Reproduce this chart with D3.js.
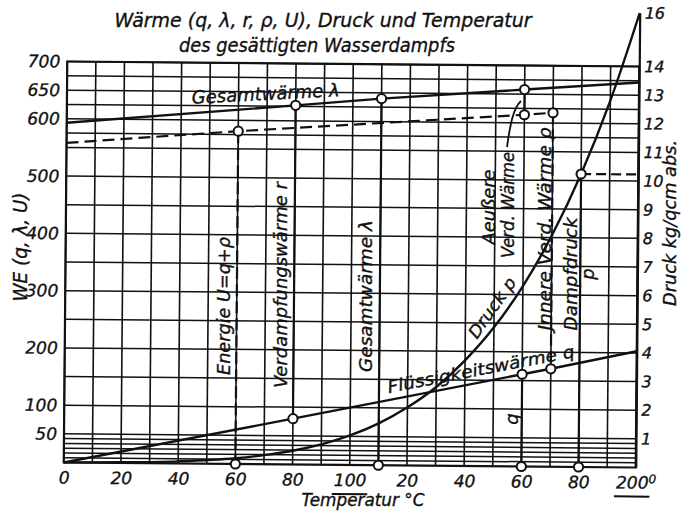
<!DOCTYPE html>
<html>
<head>
<meta charset="utf-8">
<script src="https://cdn.jsdelivr.net/npm/d3@7"></script>
<style>
  body { margin: 0; background: #fff; }
  svg { display: block; }
  text { font-family: "DejaVu Sans", sans-serif; font-style: italic; fill: #111; stroke: #111; stroke-width: 0.35px; }
</style>
</head>
<body>
<div id="chart"></div>
<script>
// Temperatur-Achse (°C)
var tempTicks = [0, 20, 40, 60, 80, 100, 120, 140, 160, 180, 200];
var tempTickLabels = ['0', '20', '40', '60', '80', '100', '20', '40', '60', '80', '200'];
var tempGrid = [0, 10, 20, 30, 40, 50, 60, 70, 80, 90, 100, 110, 120, 130, 140, 150, 160, 170, 180, 190, 200];

// Wärme-Achse (WE)
var weTicks = [50, 100, 200, 300, 400, 500, 600, 650, 700];
var weGrid = [8.3, 16.7, 25, 33.3, 41.7, 50, 100, 150, 200, 250, 300, 350, 400, 450, 500, 550,
  575, 600, 625, 650, 675, 700];

// Druck-Achse (kg/qcm abs.)
var druckTicks = [1, 2, 3, 4, 5, 6, 7, 8, 9, 10, 11, 12, 13, 14, 16];

// Kurven [t, Wert]
var gesamtwaerme = [[0, 593], [80, 627], [110, 640], [160, 658], [200, 672]];          // lambda
var fluessigkeitswaerme = [[0, 0], [80, 80], [160, 161], [170, 171], [200, 203]];      // q
var energie = [[0, 558], [60, 581], [160, 614], [170, 618]];                           // U = q + rho
var druck = [[0, 0.006], [20, 0.024], [40, 0.075], [60, 0.2], [70, 0.32], [80, 0.48],
  [90, 0.71], [100, 1.03], [110, 1.46], [120, 2.03], [130, 2.75], [140, 3.69],
  [150, 4.85], [160, 6.3], [170, 8.08], [180, 10.23], [190, 12.8], [200, 16]];        // p
var dampfdruckMarke = [[180, 10.23], [200, 10.23]];

// Messpunkte [t, Wert, Achse]
var punkte = [[60, 581, 'we'], [60, 0, 'we'], [80, 627, 'we'], [80, 80, 'we'],
  [110, 640, 'we'], [110, 0, 'we'], [160, 658, 'we'], [160, 614, 'we'], [160, 161, 'we'],
  [160, 0, 'we'], [170, 618, 'we'], [170, 171, 'we'], [180, 10.23, 'p'], [180, 0, 'we']];
// senkrechte Striche [t, von, bis, Achse, gestrichelt]
var striche = [[60, 581, 0, 'we', true], [80, 627, 80, 'we', false], [110, 640, 0, 'we', false],
  [160, 658, 614, 'we', false], [160, 161, 0, 'we', false], [170, 618, 171, 'we', true],
  [180, 10.23, 0, 'p', false]];

var W = 681, H = 516, ink = '#111';

var svg = d3.select('#chart').append('svg').attr('width', W).attr('height', H);

var x = d3.scaleLinear().domain([0, 200]).range([65.5, 637.5]);
var y = d3.scaleLinear().domain([0, 700]).range([465, 64]);
var yp = d3.scaleLinear().domain([0, 14, 16]).range([465, 64, 10.5]);
function ys(axis) { return axis === 'p' ? yp : y; }

// the scan is slightly tilted
var plot = svg.append('g').attr('transform', 'rotate(0.5,351.5,264.5)');

// grid
plot.append('g').selectAll('line').data(tempGrid).enter().append('line')
  .attr('x1', d => x(d)).attr('x2', d => x(d))
  .attr('y1', y(0)).attr('y2', y(700))
  .attr('stroke', ink).attr('stroke-width', 1.6);
plot.append('g').selectAll('line').data(weGrid).enter().append('line')
  .attr('x1', x(0)).attr('x2', x(200))
  .attr('y1', d => y(d)).attr('y2', d => y(d))
  .attr('stroke', ink).attr('stroke-width', 1.5);

// frame
plot.append('rect').attr('x', x(0)).attr('y', y(700))
  .attr('width', x(200) - x(0)).attr('height', y(0) - y(700))
  .attr('fill', 'none').attr('stroke', ink).attr('stroke-width', 2.2);

// axes
var fs = 17;
var axLeft = plot.append('g').attr('transform', 'translate(' + x(0) + ',0)')
  .call(d3.axisLeft(y).tickValues(weTicks).tickSize(0).tickPadding(7));
var axRight = plot.append('g').attr('transform', 'translate(' + x(200) + ',0)')
  .call(d3.axisRight(yp).tickValues(druckTicks).tickSize(0).tickPadding(5));
var axBottom = plot.append('g').attr('transform', 'translate(0,' + y(0) + ')')
  .call(d3.axisBottom(x).tickValues(tempTicks).tickSize(0).tickPadding(9)
    .tickFormat((d, i) => tempTickLabels[i]));
[axLeft, axBottom].forEach(a => {
  a.select('.domain').remove();
  a.selectAll('text').attr('font-size', fs).attr('fill', ink)
    .style('font-family', '"DejaVu Sans", sans-serif').style('font-style', 'italic');
});
axRight.select('.domain').attr('stroke', ink).attr('stroke-width', 2.2);
axRight.selectAll('text').attr('font-size', 16).attr('fill', ink)
  .style('font-family', '"DejaVu Sans", sans-serif').style('font-style', 'italic');

// 200 with raised 0, underlines under 100 and 200
axBottom.selectAll('.tick').filter(d => d === 200).select('text')
  .append('tspan').attr('dy', '-0.45em').attr('font-size', 12).text('0');
axBottom.selectAll('.tick').filter(d => d === 100 || d === 200).each(function(d) {
  var t = d3.select(this).select('text');
  var bb = t.node().getBBox();
  var w = d === 200 ? bb.width - 8 : bb.width;
  d3.select(this).append('line')
    .attr('x1', bb.x - 2).attr('x2', bb.x + w + 1)
    .attr('y1', bb.y + bb.height + 4).attr('y2', bb.y + bb.height + 4)
    .attr('stroke', ink).attr('stroke-width', 2);
});

// curves
var line = d3.line().x(d => x(d[0])).y(d => y(d[1]));
var lineP = d3.line().x(d => x(d[0])).y(d => yp(d[1])).curve(d3.curveMonotoneX);

plot.append('path').attr('d', line(gesamtwaerme))
  .attr('fill', 'none').attr('stroke', ink).attr('stroke-width', 2.4);
plot.append('path').attr('d', line(fluessigkeitswaerme))
  .attr('fill', 'none').attr('stroke', ink).attr('stroke-width', 2.4);
plot.append('path').attr('d', line(energie))
  .attr('fill', 'none').attr('stroke', ink).attr('stroke-width', 2.2)
  .attr('stroke-dasharray', '12,6');
plot.append('path').attr('d', lineP(druck))
  .attr('fill', 'none').attr('stroke', ink).attr('stroke-width', 2.4);
plot.append('path').attr('d', lineP(dampfdruckMarke))
  .attr('fill', 'none').attr('stroke', ink).attr('stroke-width', 2.2)
  .attr('stroke-dasharray', '10,5');

plot.append('g').selectAll('line').data(striche).enter().append('line')
  .attr('x1', d => x(d[0])).attr('x2', d => x(d[0]))
  .attr('y1', d => ys(d[3])(d[1])).attr('y2', d => ys(d[3])(d[2]))
  .attr('stroke', ink).attr('stroke-width', 2.2)
  .attr('stroke-dasharray', d => d[4] ? '12,5' : null);

plot.append('g').selectAll('circle').data(punkte).enter().append('circle')
  .attr('cx', d => x(d[0])).attr('cy', d => ys(d[2])(d[1]))
  .attr('r', 4.6).attr('fill', '#fff').attr('stroke', ink).attr('stroke-width', 2);

// labels (screen coordinates)
function label(txt, px, py, rot, size, len, anchor) {
  var t = svg.append('text')
    .attr('transform', 'translate(' + px + ',' + py + ') rotate(' + rot + ')')
    .attr('text-anchor', anchor || 'middle')
    .attr('font-size', size)
    .text(txt);
  if (len) t.attr('textLength', len).attr('lengthAdjust', 'spacingAndGlyphs');
  return t;
}

label('Wärme (q, λ, r, ρ, U), Druck und Temperatur', 323, 27, 0, 19, 417);
label('des gesättigten Wasserdampfs', 317, 52, 0, 19, 276);
label('WE (q, λ, U)', 27, 247, -90, 19, 109);
label('Druck kg/qcm abs.', 676, 223, -90, 17, 166);
label('Temperatur °C', 363, 506, 0, 17, 123);

label('Gesamtwärme λ', 266, 100, -3, 18, 148);
label('Energie U=q+ρ', 230, 306, -90, 17, 138);
label('Verdampfungswärme r', 287, 285, -90, 17, 206);
label('Gesamtwärme λ', 372, 296, -90, 17, 152);
label('Aeußere', 495, 207, -90, 17, 75);
label('Verd. Wärme', 514, 205, -90, 17, 106);
label('Jnnere Verd. Wärme ρ', 551, 229, -90, 17, 203);
label('Dampfdruck', 577, 274, -90, 17, 113);
label('p', 594, 274, -90, 18);
label('Druck p', 497, 311, -55, 17, 70);
label('Flüssigkeitswärme q', 482, 375, -11, 17, 190);
label('q', 518, 419, -90, 18);

// leader to the outer heat segment
svg.append('path').attr('d', 'M507,147 C510,126 513,108 521,101')
  .attr('fill', 'none').attr('stroke', ink).attr('stroke-width', 1.8);
</script>
</body>
</html>
